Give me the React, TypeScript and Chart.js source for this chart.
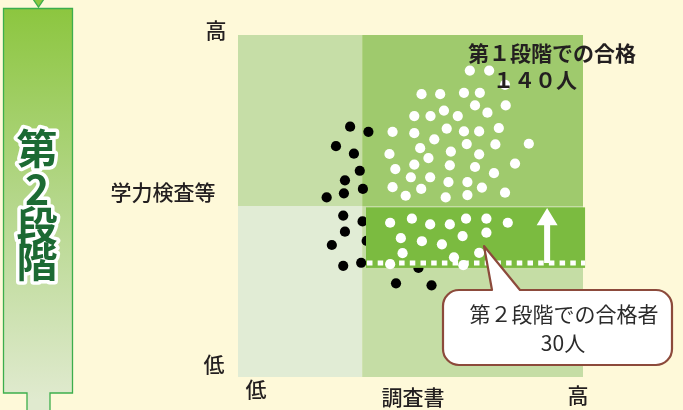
import React, { useEffect, useRef } from "react";
import { Chart, registerables } from "chart.js";

Chart.register(...registerables);

// 第1段階での合格 (white, upper-right quadrant)
const firstPassX = [67.2, 72.8, 77.4, 53.2, 58.6, 65.5, 70.1, 68.7, 77.6, 51.1, 55.8, 59.7, 63.7, 72.3, 44.8, 51.1, 60.5, 65.5, 69.9, 75.6, 56.9, 66.3, 74.6, 84.3, 52.8, 43.9, 55.2, 61.7, 69.9, 45.6, 51.1, 61.4, 68.7, 80.3, 74.2, 50.1, 55.7, 61.0, 66.5, 44.8, 53.1, 70.7, 77.4, 48.6, 60.2, 66.5];
const firstPassY = [89.6, 89.6, 85.4, 82.7, 82.7, 83.1, 83.1, 79.4, 79.4, 76.3, 76.3, 77.9, 76.3, 77.3, 71.7, 71.3, 72.6, 71.8, 71.8, 72.8, 69.5, 68.1, 68.0, 68.2, 66.9, 65.2, 64.0, 65.9, 65.1, 60.8, 62.1, 61.9, 61.4, 62.4, 59.6, 58.4, 58.4, 57.0, 57.0, 55.5, 55.0, 55.4, 53.9, 53.0, 52.5, 53.2];

// 第2段階での合格者 (white, in the band)
const secondPassX = [44.1, 50.4, 55.7, 61.4, 66.1, 72.0, 78.2, 47.2, 53.3, 59.1, 65.1, 72.0, 47.7, 62.6, 69.9, 44.1, 65.3];
const secondPassY = [45.1, 46.3, 44.6, 44.6, 46.3, 46.3, 45.1, 40.6, 39.7, 38.8, 41.2, 42.2, 36.2, 35.0, 36.3, 33.0, 32.7];

// 不合格 (black)
const failX = [32.5, 37.8, 28.4, 33.6, 35.3, 31.0, 36.2, 30.7, 25.7, 30.5, 36.1, 31.0, 27.2, 37.3, 30.5, 35.7, 52.3, 45.8, 56.1];
const failY = [73.2, 71.7, 67.5, 65.3, 60.3, 57.5, 55.0, 53.7, 52.5, 47.2, 45.5, 42.5, 38.6, 39.8, 32.5, 33.4, 31.9, 27.4, 26.8];

const yAxisLabels = ["高", "学力検査等", "低"];
const xAxisLabels = ["低", "調査書", "高"];
const firstStageLines = ["第１段階での合格", "１４０人"];
const secondStageLines = ["第２段階での合格者", "30人"];
const stageTitle = ["第", "2", "段", "階"];

const BG = "#fef9d9";
const FONT = '"Noto Sans CJK JP", "Noto Sans", sans-serif';
const TEXT = "#231f20";
const R = 5.1;

const toPoints = (xs: number[], ys: number[]) => xs.map((x, i) => ({ x, y: ys[i] }));

function drawBanner(ctx: CanvasRenderingContext2D) {
  ctx.save();
  const g = ctx.createLinearGradient(0, 8, 0, 400);
  g.addColorStop(0, "#8cc63f");
  g.addColorStop(0.5, "#b5d78b");
  g.addColorStop(1, "#e0eacf");
  ctx.fillStyle = g;
  ctx.strokeStyle = "#3cae4c";
  ctx.lineWidth = 1.3;
  ctx.beginPath();
  ctx.moveTo(3.5, 8.5);
  ctx.lineTo(72.5, 8.5);
  ctx.lineTo(72.5, 393);
  ctx.lineTo(50, 393);
  ctx.lineTo(50, 412);
  ctx.lineTo(27, 412);
  ctx.lineTo(27, 393);
  ctx.lineTo(3.5, 393);
  ctx.closePath();
  ctx.fill();
  ctx.stroke();
  // small V at top
  ctx.beginPath();
  ctx.moveTo(33, -1);
  ctx.lineTo(38.5, 7);
  ctx.lineTo(44, -1);
  ctx.fillStyle = "#8cc63f";
  ctx.fill();
  ctx.stroke();
  // vertical title
  ctx.font = `bold 41px ${FONT}`;
  ctx.textAlign = "center";
  ctx.textBaseline = "middle";
  ctx.lineJoin = "round";
  const ys = [148, 189, 225, 261];
  stageTitle.forEach((ch, i) => {
    ctx.strokeStyle = "#ffffff";
    ctx.lineWidth = 7;
    ctx.strokeText(ch, 37, ys[i]);
  });
  stageTitle.forEach((ch, i) => {
    ctx.fillStyle = "#1c6a33";
    ctx.fillText(ch, 37, ys[i]);
  });
  ctx.restore();
}

const decor = {
  id: "decor",
  beforeDraw(chart: any) {
    const { ctx, width, height } = chart;
    ctx.save();
    ctx.fillStyle = BG;
    ctx.fillRect(0, 0, width, height);
    ctx.restore();
    drawBanner(ctx);
  },
  beforeDatasetsDraw(chart: any) {
    const { ctx, chartArea: a, scales } = chart;
    const xs = scales.x.getPixelForValue(36);
    const ys = scales.y.getPixelForValue(50);
    ctx.save();
    ctx.fillStyle = "#c6dea7";
    ctx.fillRect(a.left, a.top, xs - a.left, ys - a.top);
    ctx.fillStyle = "#9fca6d";
    ctx.fillRect(xs, a.top, a.right - xs, ys - a.top);
    ctx.fillStyle = "#e1ecd5";
    ctx.fillRect(a.left, ys, xs - a.left, a.bottom - ys);
    ctx.fillStyle = "#c5dda5";
    ctx.fillRect(xs, ys, a.right - xs, a.bottom - ys);
    ctx.restore();
  },
  afterDatasetDraw(chart: any, args: any) {
    if (args.index !== 0) return;
    const { ctx, scales } = chart;
    const l = scales.x.getPixelForValue(37.1);
    const r = scales.x.getPixelForValue(100.6);
    const t = scales.y.getPixelForValue(49.6);
    const b = scales.y.getPixelForValue(31.9);
    ctx.save();
    ctx.fillStyle = "#7bbb40";
    ctx.fillRect(l, t, r - l, b - t);
    const dy = scales.y.getPixelForValue(33.3);
    ctx.strokeStyle = "#ffffff";
    ctx.lineWidth = 5;
    ctx.setLineDash([5.5, 5.2]);
    ctx.beginPath();
    ctx.moveTo(l + 1, dy);
    ctx.lineTo(r, dy);
    ctx.stroke();
    ctx.restore();
  },
  afterDatasetsDraw(chart: any) {
    const { ctx, scales } = chart;
    ctx.save();
    // arrow
    const ax = scales.x.getPixelForValue(89.6);
    const aTop = scales.y.getPixelForValue(49.4);
    const aHead = scales.y.getPixelForValue(44.4);
    const aBot = scales.y.getPixelForValue(33.3);
    ctx.fillStyle = "#ffffff";
    ctx.beginPath();
    ctx.moveTo(ax, aTop);
    ctx.lineTo(ax + 10.5, aHead);
    ctx.lineTo(ax + 3, aHead);
    ctx.lineTo(ax + 3, aBot);
    ctx.lineTo(ax - 3, aBot);
    ctx.lineTo(ax - 3, aHead);
    ctx.lineTo(ax - 10.5, aHead);
    ctx.closePath();
    ctx.fill();

    // callout
    const l = 443, t = 290, r = 672, b = 365, rad = 16;
    const tipX = scales.x.getPixelForValue(71.3);
    const tipY = scales.y.getPixelForValue(38.3);
    ctx.beginPath();
    ctx.moveTo(l + rad, t);
    ctx.lineTo(492, t);
    ctx.lineTo(tipX, tipY);
    ctx.lineTo(520, t);
    ctx.lineTo(r - rad, t);
    ctx.arcTo(r, t, r, t + rad, rad);
    ctx.lineTo(r, b - rad);
    ctx.arcTo(r, b, r - rad, b, rad);
    ctx.lineTo(l + rad, b);
    ctx.arcTo(l, b, l, b - rad, rad);
    ctx.lineTo(l, t + rad);
    ctx.arcTo(l, t, l + rad, t, rad);
    ctx.closePath();
    ctx.fillStyle = "#ffffff";
    ctx.fill();
    ctx.strokeStyle = "#8c4a3b";
    ctx.lineWidth = 2.2;
    ctx.lineJoin = "round";
    ctx.stroke();

    ctx.textAlign = "center";
    ctx.textBaseline = "middle";
    ctx.fillStyle = "#2b2b2b";
    ctx.font = `21px ${FONT}`;
    ctx.fillText(secondStageLines[0], 564, 314);
    ctx.fillText(secondStageLines[1], 563, 343);

    ctx.fillStyle = TEXT;
    ctx.font = `bold 21px ${FONT}`;
    ctx.fillText(firstStageLines[0], 552, 53);
    ctx.fillText(firstStageLines[1], 535, 80);

    // axis labels
    ctx.font = `500 21px ${FONT}`;
    ctx.fillText(yAxisLabels[0], 216, 30);
    ctx.fillText(yAxisLabels[1], 163, 192);
    ctx.fillText(yAxisLabels[2], 214, 364);
    ctx.fillText(xAxisLabels[0], 256, 389);
    ctx.fillText(xAxisLabels[1], 413, 397);
    ctx.fillText(xAxisLabels[2], 578, 395);
    ctx.restore();
  },
};

export default function App() {
  const ref = useRef<HTMLCanvasElement | null>(null);
  useEffect(() => {
    if (!ref.current) return;
    const chart = new Chart(ref.current, {
      type: "scatter",
      data: {
        datasets: [
          {
            label: "不合格",
            data: toPoints(failX, failY),
            pointRadius: R,
            pointBorderWidth: 0,
            pointBackgroundColor: "#000000",
            backgroundColor: "#000000",
            order: 3,
          },
          {
            label: "第1段階での合格",
            data: toPoints(firstPassX, firstPassY),
            pointRadius: R,
            pointBorderWidth: 0,
            pointBackgroundColor: "#ffffff",
            backgroundColor: "#ffffff",
            order: 2,
          },
          {
            label: "第2段階での合格者",
            data: toPoints(secondPassX, secondPassY),
            pointRadius: R,
            pointBorderWidth: 0,
            pointBackgroundColor: "#ffffff",
            backgroundColor: "#ffffff",
            order: 1,
          },
        ],
      },
      options: {
        animation: false,
        responsive: true,
        maintainAspectRatio: false,
        layout: { padding: { left: 238, right: 100, top: 35, bottom: 33 } },
        scales: {
          x: { type: "linear", min: 0, max: 100, display: false },
          y: { type: "linear", min: 0, max: 100, display: false },
        },
        plugins: {
          legend: { display: false },
          tooltip: { enabled: false },
        },
        events: [],
      },
      plugins: [decor],
    });
    return () => chart.destroy();
  }, []);
  return (
    <div style={{ position: "absolute", left: 0, top: 0, width: 683, height: 410, background: BG }}>
      <canvas ref={ref} />
    </div>
  );
}
